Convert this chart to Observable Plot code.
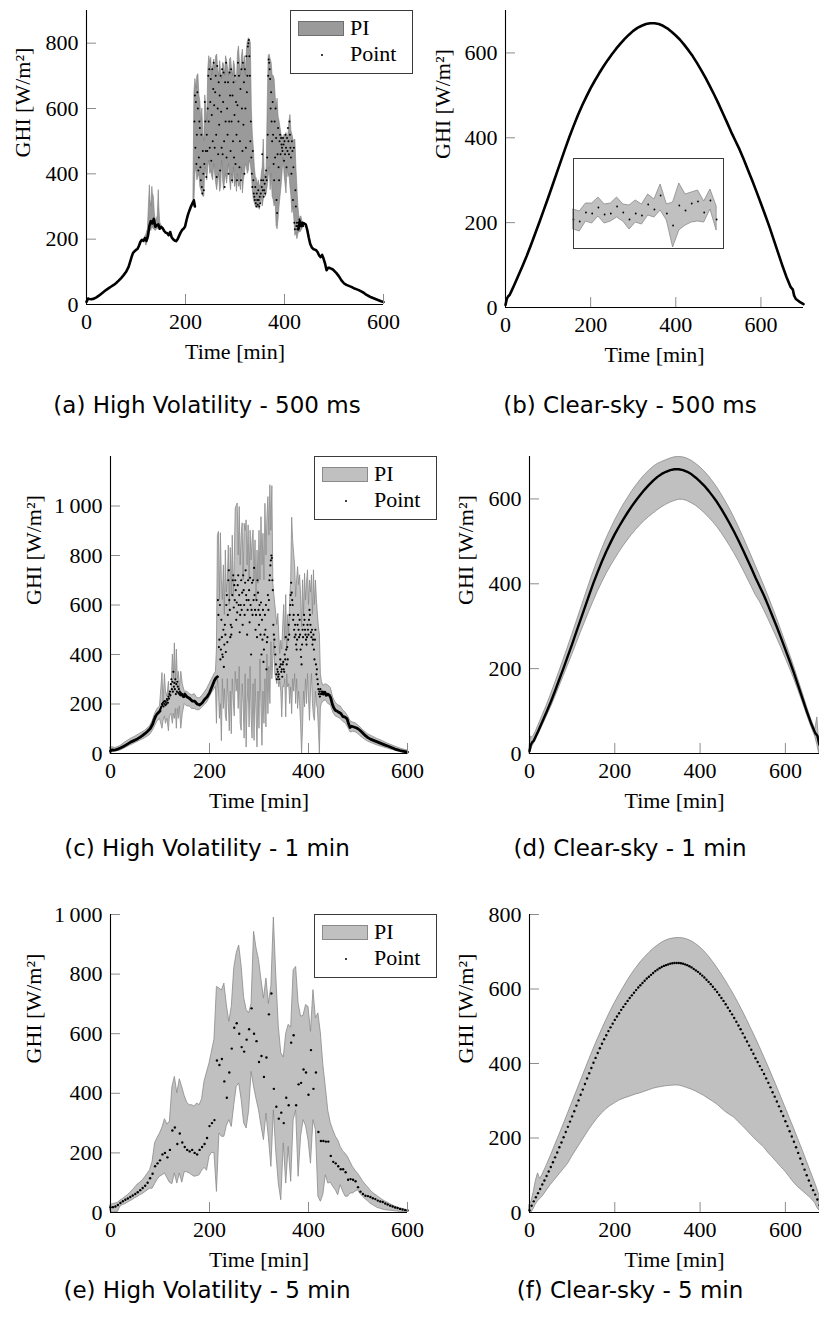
<!DOCTYPE html>
<html><head><meta charset="utf-8">
<script src="https://cdn.jsdelivr.net/npm/d3@7"></script>
<script src="https://cdn.jsdelivr.net/npm/@observablehq/plot@0.6"></script>
<style>
html,body{margin:0;padding:0;background:#fff;}
#page{position:relative;width:819px;height:1327px;overflow:hidden;background:#fff;}
.cap{position:absolute;width:400px;text-align:center;white-space:nowrap;font-family:"DejaVu Sans",sans-serif;font-size:23px;line-height:28px;color:#000;}
.legend{position:absolute;width:121px;height:62px;border:1px solid #3a3a3a;background:#fff;font-family:"Liberation Serif",serif;font-size:22px;color:#000;}
.legend .sw{position:absolute;left:7px;top:10px;width:44px;height:13px;}
.legend .lt{position:absolute;left:59px;line-height:22px;white-space:nowrap;}
.legend .ld{position:absolute;left:30px;top:43px;width:2.4px;height:2.4px;border-radius:50%;background:#000;}
</style></head>
<body><div id="page"></div>
<script>
// ---------- shared tick values / labels ----------
const xTicksMin = [0, 200, 400, 600];
const yTicksA = [0, 200, 400, 600, 800];
const yTicksB = [0, 200, 400, 600];
const yTicksC = [0, 200, 400, 600, 800, 1000];
const xLabel = "Time [min]";
const yLabel = "GHI [W/m²]";
const legendLabels = ["PI", "Point"];
const captions = ["(a) High Volatility - 500 ms", "(b) Clear-sky - 500 ms", "(c) High Volatility - 1 min",
  "(d) Clear-sky - 1 min", "(e) High Volatility - 5 min", "(f) Clear-sky - 5 min"];

// ---------- (a) High volatility, 500 ms ----------
const aLineT = [0,3,6,10,15,20,25,30,35,40,45,50,55,60,65,70,75,80,85,88,91,94,97,100,103,106,109,112,115,118,121,124,127,130,133,136,139,142,145,148,151,154,157,160,163,166,169,172,175,178,181,184,187,190,193,196,199,202,205,208,211,214,217,219,320,428,431,434,437,440,443,446,449,452,455,458,461,464,467,470,473,476,479,482,485,488,491,494,497,500,505,510,515,520,525,530,535,540,545,550,555,560,565,570,575,580,585,590,595,600];
const aLineP = [8,18,17,16,18,22,27,33,39,45,50,55,60,66,73,81,90,100,115,130,145,158,163,167,170,180,192,198,195,203,195,210,240,255,248,262,238,243,245,232,238,233,225,220,218,212,222,206,200,196,194,200,210,220,228,232,238,258,275,288,300,310,318,300,null,230,255,240,250,248,245,228,205,185,175,170,168,166,160,150,145,152,140,125,105,112,112,110,108,104,96,86,74,65,60,57,54,50,47,44,40,36,30,26,22,19,16,13,10,8];
const aSmallT = [118,121,124,126,128,129,131,133,134,136,138,140,142,144,146,147,149,152];
const aSmallLo = [195,180,195,200,220,230,225,240,235,230,228,225,230,232,230,232,235,232];
const aSmallHi = [205,215,230,300,365,320,300,360,340,330,280,255,262,270,350,300,250,240];
const aBigT = d3.range(216, 441, 2);
const aBigHi = [330,650,690,660,700,705,640,620,560,600,520,500,640,600,560,720,760,740,755,700,730,750,720,760,765,720,700,745,710,690,740,735,700,760,745,720,700,750,755,720,700,745,730,680,690,770,790,740,700,760,780,720,760,700,780,805,815,810,800,600,520,480,420,390,385,365,380,365,360,400,420,505,400,390,420,600,760,765,750,740,700,700,690,640,600,630,575,560,540,520,515,500,520,510,525,510,520,560,580,530,520,505,500,505,420,360,300,270,260,270,255,250,245];
const aBigLo = [300,310,400,420,380,390,400,360,350,340,330,330,420,400,380,420,440,400,410,390,380,430,400,370,350,380,400,345,360,440,380,350,380,400,370,400,430,380,350,400,370,420,360,380,345,400,360,370,350,420,340,380,400,430,420,400,410,440,430,400,350,320,310,300,305,295,300,290,310,330,300,320,350,330,340,360,390,420,350,400,330,320,300,320,240,230,260,300,330,360,400,450,400,370,340,420,390,400,360,330,280,300,260,210,220,200,215,225,220,225,230,235,238];
const aDotT = d3.range(217, 439);
const aDotP = [320,560,640,480,620,430,520,650,600,410,450,560,540,420,
380,520,360,340,470,400,350,430,620,560,470,390,520,470,600,
700,560,720,480,620,690,440,580,720,500,660,740,610,480,650,
700,520,390,730,600,460,680,550,640,410,700,590,480,720,460,
620,710,500,360,680,560,740,450,600,520,680,400,560,710,640,
470,720,560,380,640,500,680,450,580,700,430,620,520,380,610,
740,560,700,420,500,660,380,720,600,470,740,550,680,400,720,
600,480,760,650,700,790,800,810,760,700,500,560,450,400,360,
470,380,340,330,320,360,310,300,340,320,305,350,320,300,330,
310,340,380,360,460,350,380,330,350,370,340,390,410,380,450,
520,700,750,740,720,690,600,650,560,500,620,520,430,380,560,
450,600,510,320,280,460,540,420,380,500,520,460,510,490,480,
470,510,490,440,500,460,520,480,420,510,470,540,500,460,560,
520,480,450,400,500,470,320,420,480,250,230,350,300,240,250,
230,240,250,235,260,240,250,245,240,248,250,245,240];

// ---------- (b) Clear-sky, 500 ms ----------
const bT = [0,3,6,10,15,20,30,40,50,60,70,80,90,100,110,120,130,140,150,160,170,180,190,200,210,220,230,240,250,260,270,280,290,300,310,320,330,340,350,360,370,380,390,400,410,420,430,440,450,460,470,480,490,500,510,520,530,540,550,560,570,580,590,600,610,620,630,640,650,660,670,675,678,682,690,700];
const bP = [6,20,26,30,41,52,75,98,122,148,175,202,230,258,287,316,345,374,402,428,453,476,497,517,535,552,568,583,597,610,622,633,643,652,659,664,668,670,670,668,664,658,650,641,631,619,606,592,576,559,541,522,502,481,459,437,414,393,372,348,323,298,272,245,218,190,160,130,100,72,48,42,28,20,14,8];
// inset (zoomed detail of the 500 ms interval)
const inI = d3.range(24);
const inHi = [39,37,45,45,51,44,45,51,44,43,48,44,54,49,64,44,46,65,54,56,58,47,59,42];
const inLo = [19,17,27,25,32,25,27,31,27,19,26,24,33,31,38,28,1,18,23,26,27,26,39,18];
const inP = [29,27,36,35,41,34,35,42,36,29,35,33,44,39,53,35,23,43,38,45,47,36,48,29];

// ---------- (c) High volatility, 1 min ----------
const cLineT = [0,3,6,10,15,20,25,30,35,40,45,50,55,60,65,70,75,80,85,88,91,94,97,100,125,150,155,160,165,170,175,180,185,190,195,200,205,210,213,216,300,430,433,436,439,442,445,448,451,454,457,460,463,466,469,472,475,478,481,484,487,490,493,496,500,505,510,515,520,525,530,535,540,545,550,555,560,565,570,575,580,585,590,595,600];
const cLineP = [10,15,14,15,18,22,27,33,39,45,50,55,60,66,73,81,90,100,118,135,150,160,166,172,null,240,228,222,212,212,200,196,204,218,228,245,270,295,305,310,null,240,248,235,240,236,225,200,185,175,172,168,165,160,150,148,145,140,120,105,110,108,106,104,100,92,82,72,64,58,54,50,46,42,38,34,30,26,22,18,15,12,10,8,6];
const cLT = [0,5,10,20,30,40,50,60,70,80,85,90,95,100,105,107,110,112,115,118,120,123,126,128,130,132,134,136,138,140,143,146,150,155,160,165,170,175,180,185,190,195,200,205,210,213];
const cLLo = [0,5,8,12,22,32,42,52,62,75,90,110,130,140,100,130,150,120,140,90,150,160,120,160,140,180,100,180,140,190,100,160,200,190,190,180,180,175,175,185,195,205,225,245,260,270];
const cLHi = [25,25,22,30,45,58,68,80,92,110,130,160,180,190,325,200,320,250,230,290,215,240,400,300,445,280,420,300,330,260,330,280,250,250,240,235,240,225,222,232,245,260,280,300,320,330];
const cVT = [...d3.range(215, 428, 2), 430, 435];
const cVHi = [420,880,895,620,890,700,620,760,560,820,650,700,840,600,830,640,880,632,780,990,1000,1010,800,996,760,880,930,700,928,900,942,760,922,700,900,780,860,901,700,861,620,820,686,900,700,955,760,888,700,1009,800,950,1036,880,1084,900,1080,686,640,600,560,520,564,480,402,456,420,520,600,456,640,416,560,483,620,700,953,860,807,760,632,700,753,680,720,640,510,700,560,726,618,690,740,600,699,650,720,560,740,600,699,620,560,510,480,321,290,274,280];
const cVLo = [120,300,260,140,200,50,300,180,260,150,130,300,200,90,250,78,300,213,150,330,250,300,180,350,120,92,280,200,60,320,24,200,300,105,350,150,60,280,51,300,160,24,250,100,380,180,31,250,120,300,105,400,159,350,200,450,300,380,450,321,300,280,321,267,290,250,146,270,267,300,146,320,267,280,200,267,159,300,250,321,200,300,180,250,200,120,0,105,250,186,300,200,321,220,132,250,321,200,150,132,250,200,180,100,0,186,200,210,215];
const cRT = [440,445,450,455,460,465,470,475,480,485,490,495,500,505,510,520,530,540,550,560,570,580,590,600];
const cRLo = [200,195,165,150,145,140,128,122,105,85,88,86,80,70,62,48,40,32,26,20,14,9,5,2];
const cRHi = [275,265,225,205,195,190,175,165,150,130,125,122,115,105,95,78,68,58,50,40,32,24,17,12];
const cDot1T = d3.range(100, 151);
const cDot1P = [175,180,185,190,200,196,205,190,210,200,212,195,208,200,220,
215,205,230,222,240,250,235,280,300,260,290,250,330,270,285,
260,300,240,280,250,290,270,245,260,240,250,235,245,240,235,
240,230,235,228,232,230];
const cDot2T = d3.range(216, 431);
const cDot2P = [310,620,560,430,460,600,380,420,540,470,400,390,500,350,440,
520,480,410,600,640,450,560,700,740,620,580,470,520,480,510,
640,700,720,590,680,620,700,660,540,610,570,680,720,600,640,
490,560,600,700,580,650,520,720,660,600,560,690,740,640,620,
480,580,700,620,660,530,710,600,400,580,690,560,700,620,750,
640,580,500,560,620,470,700,650,580,520,600,560,480,610,400,
540,460,580,370,420,480,560,500,600,340,450,470,640,580,620,
700,720,760,780,800,790,700,660,520,480,460,430,400,360,320,
300,340,330,310,320,300,350,380,360,330,340,310,360,370,340,
330,400,380,470,420,360,430,380,460,520,480,560,600,640,690,
650,620,600,540,560,500,470,520,480,440,420,460,520,560,500,
470,540,480,420,390,360,440,500,470,520,560,540,500,480,460,
440,470,520,500,480,540,580,560,520,490,470,500,440,460,480,
420,380,460,500,360,320,340,300,280,260,240,250,230,260,240,
250,240,245,250,240];

// ---------- (d) Clear-sky, 1 min ----------
const dT = [0,3,6,10,15,20,30,40,50,60,70,80,90,100,110,120,130,140,150,160,170,180,190,200,210,220,230,240,250,260,270,280,290,300,310,320,330,340,350,360,370,380,390,400,410,420,430,440,450,460,470,480,490,500,510,520,530,540,550,560,570,580,590,600,610,620,630,640,650,660,670,675,678,680];
const dP = [6,20,26,30,41,52,75,98,122,148,175,202,230,258,287,316,345,374,402,428,453,476,497,517,535,552,568,583,597,610,622,633,643,652,659,664,668,670,670,668,664,658,650,641,631,619,606,592,576,559,541,522,502,481,459,437,414,393,372,348,323,298,272,245,218,190,160,130,100,72,48,42,28,20];
const dHi = [14,40,38,42,52,64,88,112,138,165,193,221,250,279,309,339,369,399,428,455,481,505,527,548,567,585,601,617,631,644,656,666,675,682,687,691,695,698,699,698,695,690,683,675,665,654,641,627,611,594,576,556,535,513,490,467,443,420,396,371,345,319,291,263,235,206,175,144,112,82,56,85,40,25];
const dLo = [0,5,15,22,32,42,64,86,108,132,157,182,207,232,258,284,309,334,358,381,402,422,440,457,473,488,502,515,527,538,548,557,565,573,580,586,591,595,598,598,595,590,584,576,567,557,546,534,520,505,489,472,454,435,415,395,374,358,338,317,295,273,250,226,202,177,150,122,93,65,40,20,5,0];

// ---------- (e) High volatility, 5 min ----------
const eT = d3.range(0, 601, 5);
const eP = [18,18,20,25,32,38,43,47,52,57,62,68,75,82,90,100,115,130,155,165,175,195,200,185,210,275,285,230,265,235,220,210,205,210,200,195,210,220,230,250,290,300,310,510,495,515,440,385,470,550,620,635,600,555,540,580,615,685,600,575,505,525,455,520,665,735,415,355,315,335,300,385,360,570,595,360,430,435,480,470,395,545,415,470,270,240,240,238,238,190,170,165,155,145,145,135,110,112,110,105,85,70,62,56,55,52,48,45,40,37,35,30,27,23,20,17,15,12,10,8,7];
const eHi = [25,28,30,33,40,45,52,58,66,75,84,94,100,108,118,130,142,170,232,250,265,285,313,295,305,420,455,400,447,420,390,368,360,360,355,366,360,380,440,470,500,540,580,757,752,745,768,696,640,690,820,870,896,824,720,680,668,700,942,886,847,780,718,785,700,760,990,791,623,534,520,600,630,620,813,824,701,657,660,696,690,606,746,651,668,601,494,420,340,300,276,255,242,220,205,197,185,168,152,140,130,118,105,94,85,75,66,60,54,48,42,37,33,28,24,20,17,14,12,10,8];
const eLo = [5,0,0,2,20,25,28,33,38,42,48,52,58,62,68,74,80,80,95,110,120,125,131,115,100,95,131,97,131,100,136,135,131,125,120,122,125,140,150,140,187,200,200,69,265,254,254,290,310,287,360,422,433,377,299,282,340,472,422,380,343,290,243,332,250,153,343,200,97,41,232,97,220,103,310,343,120,254,310,290,243,164,310,276,53,36,60,125,97,100,86,75,58,92,70,53,53,64,64,70,75,62,53,45,38,30,25,20,15,13,10,8,7,6,5,4,3,2,2,1,0];

// ---------- (f) Clear-sky, 5 min ----------
const fT = d3.range(0, 681, 5);
const fP = [6,18,30,41,52,63,75,86,98,110,
122,135,148,161,175,188,202,216,230,244,
258,272,287,301,316,330,345,360,374,388,
402,415,428,441,453,465,476,487,497,507,
517,526,535,544,552,560,568,576,583,590,
597,604,610,616,622,628,633,638,643,648,
652,656,659,662,664,666,668,669,670,670,
670,669,668,666,664,661,658,654,650,646,
641,636,631,625,619,613,606,599,592,584,
576,568,559,550,541,532,522,512,502,492,
481,470,459,448,437,426,414,404,393,383,
372,360,348,336,323,311,298,285,272,259,
245,232,218,204,190,175,160,145,130,115,
100,86,72,60,48,35,20];
const fBT = [0,5,10,15,20,25,30,40,50,60,70,80,90,100,110,120,130,140,150,160,170,180,190,200,210,220,230,240,250,260,270,280,290,300,310,320,330,340,350,360,370,380,390,400,410,420,430,440,450,460,470,480,490,500,510,520,530,540,550,560,570,580,590,600,610,620,630,640,650,660,670,675,680];
const fHi = [20,30,55,85,105,90,100,125,152,180,208,236,265,294,323,352,381,410,438,465,491,516,540,562,583,603,622,640,656,671,684,696,707,716,724,730,734,736,737,736,733,728,721,712,701,688,673,657,640,622,603,583,562,540,517,493,469,444,418,392,365,338,310,282,254,226,197,168,138,108,78,62,45];
const fLo = [5,0,10,22,30,36,42,58,74,88,102,116,130,150,168,186,204,222,238,253,266,277,286,293,300,305,309,313,317,320,324,328,332,335,337,339,340,341,341,338,334,330,325,319,313,305,298,290,280,270,262,255,243,232,220,208,196,185,175,160,148,135,122,110,95,80,68,58,48,38,25,12,5];

// ---------- helpers ----------
const rows = (t, cols) => t.map((v, i) => { const o = {t: v}; for (const k in cols) o[k] = cols[k][i]; return o; });
const fmt = d => d >= 1000 ? String(d).replace(/(\d)(\d{3})$/, "$1\u2009$2") : String(d);
const SERIF = "'Liberation Serif','DejaVu Serif',serif";
const page = document.getElementById("page");
const M = {l: 100, r: 50, t: 14, b: 64};
const BAND_DARK = {fill: "#9a9a9a", stroke: "#7c7c7c", strokeWidth: 0.6};
const BAND = {fill: "#c0c0c0", stroke: "#8a8a8a", strokeWidth: 0.8};

function addPanel({fx, fy, fw, fh, xDomain, yDomain, yTicks, labelDx, marks}) {
  const svg = Plot.plot({
    width: M.l + fw + M.r, height: M.t + fh + M.b,
    marginLeft: M.l, marginRight: M.r, marginTop: M.t, marginBottom: M.b,
    x: {domain: xDomain, ticks: xTicksMin, tickSize: 0, tickPadding: 9, tickFormat: fmt, label: null},
    y: {domain: yDomain, ticks: yTicks, tickSize: 0, tickPadding: 8, tickFormat: fmt, label: null},
    style: {background: "transparent", overflow: "visible", maxWidth: "none", fontFamily: SERIF, fontSize: "22px", color: "#000"},
    marks: [
      ...marks,
      Plot.tickX(xTicksMin, {x: d => d, stroke: "#8c8c8c", strokeWidth: 1, insetTop: fh - 10}),
      Plot.tickY(yTicks, {y: d => d, stroke: "#8c8c8c", strokeWidth: 1, insetRight: fw - 10}),
      Plot.ruleY([yDomain[0]], {stroke: "#000", strokeWidth: 1.1}),
      Plot.ruleX([xDomain[0]], {stroke: "#000", strokeWidth: 1.1}),
      Plot.text([xLabel], {text: d => d, frameAnchor: "bottom", lineAnchor: "middle", dy: 47, fontSize: 22}),
      Plot.text([yLabel], {text: d => d, frameAnchor: "left", rotate: -90, dx: labelDx, fontSize: 22})
    ]
  });
  Object.assign(svg.style, {position: "absolute", left: (fx - M.l) + "px", top: (fy - M.t) + "px"});
  page.appendChild(svg);
}

function addLegend(left, top, fill, stroke) {
  const box = document.createElement("div");
  box.className = "legend";
  box.style.left = left + "px"; box.style.top = top + "px";
  box.innerHTML = `<div class="sw" style="background:${fill};border:1px solid ${stroke}"></div>` +
    `<span class="lt" style="top:6px">${legendLabels[0]}</span><div class="ld"></div>` +
    `<span class="lt" style="top:32px">${legendLabels[1]}</span>`;
  page.appendChild(box);
}

function addCaption(text, cx, cy) {
  const d = document.createElement("div");
  d.className = "cap"; d.textContent = text;
  d.style.left = (cx - 200) + "px"; d.style.top = (cy - 14) + "px";
  page.appendChild(d);
}

// (a)
addPanel({fx: 86, fy: 10, fw: 297, fh: 294, xDomain: [0, 600], yDomain: [0, 900], yTicks: yTicksA, labelDx: -64,
  marks: [
    Plot.areaY(rows(aSmallT, {lo: aSmallLo, hi: aSmallHi}), {x: "t", y1: "lo", y2: "hi", ...BAND_DARK}),
    Plot.areaY(rows(aBigT, {lo: aBigLo, hi: aBigHi}), {x: "t", y1: "lo", y2: "hi", ...BAND_DARK}),
    Plot.line(rows(aLineT, {p: aLineP}), {x: "t", y: "p", stroke: "#000", strokeWidth: 2.6}),
    Plot.dot(rows(aDotT, {p: aDotP}), {x: "t", y: "p", r: 1, fill: "#000"})
  ]});
// (b)
addPanel({fx: 505, fy: 10, fw: 298, fh: 297, xDomain: [0, 700], yDomain: [0, 700], yTicks: yTicksB, labelDx: -63,
  marks: [Plot.line(rows(bT, {p: bP}), {x: "t", y: "p", stroke: "#000", strokeWidth: 2.6})]});
const inset = Plot.plot({
  width: 150, height: 90, margin: 0,
  x: {domain: [0, 24.1], axis: null}, y: {domain: [0, 90], axis: null},
  style: {background: "#fff", overflow: "visible", maxWidth: "none"},
  marks: [
    Plot.areaY(inI.map((i) => ({i, lo: inLo[i], hi: inHi[i]})), {x: "i", y1: "lo", y2: "hi", ...BAND}),
    Plot.dot(inI.map((i) => ({i, p: inP[i]})), {x: "i", y: "p", r: 0.9, fill: "#000"}),
    Plot.frame({stroke: "#3a3a3a", strokeWidth: 1})
  ]});
Object.assign(inset.style, {position: "absolute", left: "573px", top: "158px"});
page.appendChild(inset);
// (c)
addPanel({fx: 110, fy: 456, fw: 297, fh: 297, xDomain: [0, 600], yDomain: [0, 1200], yTicks: yTicksC, labelDx: -77,
  marks: [
    Plot.areaY(rows([...cLT, ...cVT, ...cRT], {lo: [...cLLo, ...cVLo, ...cRLo], hi: [...cLHi, ...cVHi, ...cRHi]}), {x: "t", y1: "lo", y2: "hi", ...BAND}),
    Plot.line(rows(cLineT, {p: cLineP}), {x: "t", y: "p", stroke: "#000", strokeWidth: 2.8}),
    Plot.dot(rows(cDot1T, {p: cDot1P}), {x: "t", y: "p", r: 1.1, fill: "#000"}),
    Plot.dot(rows(cDot2T, {p: cDot2P}), {x: "t", y: "p", r: 1.1, fill: "#000"})
  ]});
// (d)
addPanel({fx: 529, fy: 456, fw: 290, fh: 297, xDomain: [0, 680], yDomain: [0, 700], yTicks: yTicksB, labelDx: -64,
  marks: [
    Plot.areaY(rows(dT, {lo: dLo, hi: dHi}), {x: "t", y1: "lo", y2: "hi", ...BAND}),
    Plot.line(rows(dT, {p: dP}), {x: "t", y: "p", stroke: "#000", strokeWidth: 2.4})
  ]});
// (e)
addPanel({fx: 110, fy: 914, fw: 297, fh: 298, xDomain: [0, 600], yDomain: [0, 1000], yTicks: yTicksC, labelDx: -77,
  marks: [
    Plot.areaY(rows(eT, {lo: eLo, hi: eHi}), {x: "t", y1: "lo", y2: "hi", ...BAND}),
    Plot.dot(rows(eT, {p: eP}), {x: "t", y: "p", r: 1.2, fill: "#000"})
  ]});
// (f)
addPanel({fx: 529, fy: 914, fw: 290, fh: 298, xDomain: [0, 680], yDomain: [0, 800], yTicks: yTicksA, labelDx: -64,
  marks: [
    Plot.areaY(rows(fBT, {lo: fLo, hi: fHi}), {x: "t", y1: "lo", y2: "hi", ...BAND}),
    Plot.dot(rows(fT, {p: fP}), {x: "t", y: "p", r: 1.2, fill: "#000"})
  ]});

addLegend(290, 10, "#9a9a9a", "#6e6e6e");
addLegend(314, 456, "#c0c0c0", "#8a8a8a");
addLegend(314, 914, "#c0c0c0", "#8a8a8a");

addCaption(captions[0], 207, 405);
addCaption(captions[1], 630, 405);
addCaption(captions[2], 207, 848);
addCaption(captions[3], 630, 848);
addCaption(captions[4], 207, 1290);
addCaption(captions[5], 630, 1290);
</script>
</body></html>
